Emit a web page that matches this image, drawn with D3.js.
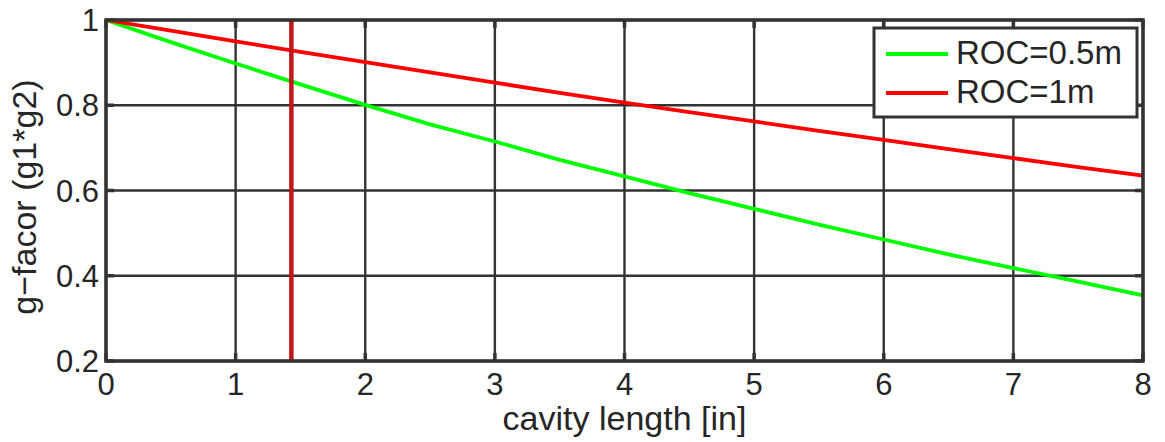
<!DOCTYPE html>
<html>
<head>
<meta charset="utf-8">
<script src="https://cdn.jsdelivr.net/npm/d3@7"></script>
<style>
  html, body { margin: 0; padding: 0; background: #fff; }
  svg { display: block; font-family: "Liberation Sans", Arial, sans-serif; }
</style>
</head>
<body>
<svg id="chart" width="1165" height="442"></svg>
<script>
// Cavity length in inches
const lengths = [0, 0.5, 1, 1.5, 2, 2.5, 3, 3.5, 4, 4.5, 5, 5.5, 6, 6.5, 7, 7.5, 8];
// g1*g2 for mirrors with ROC = 0.5 m
const gRoc05 = [1.000, 0.948, 0.898, 0.849, 0.801, 0.755, 0.715, 0.672, 0.633, 0.594, 0.557, 0.520, 0.485, 0.450, 0.418, 0.386, 0.354];
// g1*g2 for mirrors with ROC = 1 m
const gRoc1 = [1.000, 0.975, 0.950, 0.925, 0.901, 0.877, 0.853, 0.829, 0.806, 0.784, 0.762, 0.740, 0.719, 0.697, 0.676, 0.655, 0.635];
const seriesNames = ["ROC=0.5m", "ROC=1m"];
const xTicks = [0, 1, 2, 3, 4, 5, 6, 7, 8];
const yTicks = [0.2, 0.4, 0.6, 0.8, 1];
const markerLength = [1.43];

const svg = d3.select("#chart");
const plotLeft = 106, plotRight = 1143, plotTop = 20, plotBottom = 361;

const x = d3.scaleLinear().domain([0, 8]).range([plotLeft, plotRight]);
const y = d3.scaleLinear().domain([0.2, 1]).range([plotBottom, plotTop]);

const gridColor = "#333";
const textColor = "#262626";

// Grid lines
svg.append("g").selectAll("line").data(xTicks).join("line")
  .attr("x1", d => x(d)).attr("x2", d => x(d))
  .attr("y1", plotTop).attr("y2", plotBottom)
  .attr("stroke", gridColor).attr("stroke-width", 2.4);
svg.append("g").selectAll("line").data(yTicks).join("line")
  .attr("x1", plotLeft).attr("x2", plotRight)
  .attr("y1", d => y(d)).attr("y2", d => y(d))
  .attr("stroke", gridColor).attr("stroke-width", 2.4);

// Inward tick stubs on all four sides
const tickG = svg.append("g").attr("stroke", gridColor).attr("stroke-width", 3.5);
xTicks.forEach(t => {
  tickG.append("line").attr("x1", x(t)).attr("x2", x(t)).attr("y1", plotBottom).attr("y2", plotBottom - 8);
  tickG.append("line").attr("x1", x(t)).attr("x2", x(t)).attr("y1", plotTop).attr("y2", plotTop + 8);
});
yTicks.forEach(t => {
  tickG.append("line").attr("x1", plotLeft).attr("x2", plotLeft + 8).attr("y1", y(t)).attr("y2", y(t));
  tickG.append("line").attr("x1", plotRight).attr("x2", plotRight - 8).attr("y1", y(t)).attr("y2", y(t));
});

// Data lines
const line = d3.line().x((d, i) => x(lengths[i])).y(d => y(d));
svg.append("path").datum(gRoc05).attr("d", line)
  .attr("fill", "none").attr("stroke", "#00ff00").attr("stroke-width", 3.8);
svg.append("path").datum(gRoc1).attr("d", line)
  .attr("fill", "none").attr("stroke", "#ff0000").attr("stroke-width", 3.8);

// Vertical marker
svg.append("g").selectAll("line").data(markerLength).join("line")
  .attr("x1", d => x(d)).attr("x2", d => x(d))
  .attr("y1", plotTop).attr("y2", plotBottom)
  .attr("stroke", "#c0171b").attr("stroke-width", 4.5);

// Axes box
svg.append("rect")
  .attr("x", plotLeft).attr("y", plotTop)
  .attr("width", plotRight - plotLeft).attr("height", plotBottom - plotTop)
  .attr("fill", "none").attr("stroke", gridColor).attr("stroke-width", 3.5);

// Tick labels
svg.append("g").selectAll("text").data(xTicks).join("text")
  .attr("x", d => x(d)).attr("y", 395)
  .attr("text-anchor", "middle")
  .attr("font-size", 31).attr("fill", textColor)
  .text(d => d3.format("d")(d));
svg.append("g").selectAll("text").data(yTicks).join("text")
  .attr("x", 99).attr("y", d => y(d) + 11)
  .attr("text-anchor", "end")
  .attr("font-size", 31).attr("fill", textColor)
  .text(d => d === 1 ? "1" : d3.format(".1f")(d));

// Axis titles
svg.append("text")
  .attr("x", (plotLeft + plotRight) / 2).attr("y", 430)
  .attr("text-anchor", "middle")
  .attr("font-size", 34).attr("fill", textColor)
  .text("cavity length [in]");
svg.append("text")
  .attr("transform", "translate(36, 197) rotate(-90)")
  .attr("text-anchor", "middle")
  .attr("font-size", 34).attr("fill", textColor)
  .text("g\u2212facor (g1*g2)");

// Legend
const legend = svg.append("g");
legend.append("rect")
  .attr("x", 874).attr("y", 28).attr("width", 263).attr("height", 89)
  .attr("fill", "#fff").attr("stroke", gridColor).attr("stroke-width", 3);
const legendColors = ["#00ff00", "#ff0000"];
seriesNames.forEach((name, i) => {
  const ly = 54 + i * 39;
  legend.append("line")
    .attr("x1", 886).attr("x2", 948).attr("y1", ly).attr("y2", ly)
    .attr("stroke", legendColors[i]).attr("stroke-width", 3.8);
  legend.append("text")
    .attr("x", 956).attr("y", ly + 10)
    .attr("font-size", 33).attr("fill", textColor)
    .text(name);
});
</script>
</body>
</html>
